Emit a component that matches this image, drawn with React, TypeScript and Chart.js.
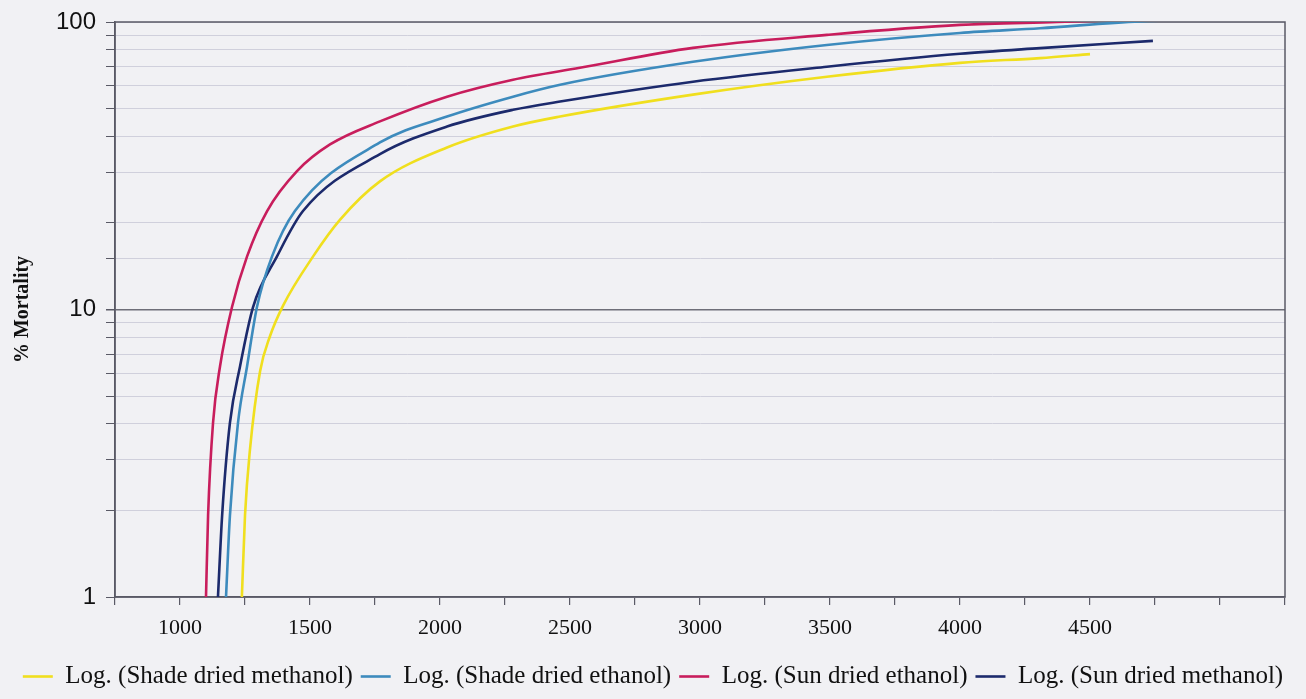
import { useEffect, useRef } from 'react';
import { Chart, registerables } from 'chart.js';

Chart.register(...registerables);

const seriesNames = [
  'Log. (Shade dried methanol)',
  'Log. (Shade dried ethanol)',
  'Log. (Sun dried ethanol)',
  'Log. (Sun dried methanol)',
];
const seriesColors = ['#f0df1e', '#3d8bbd', '#c81d5c', '#1c2a6c'];

// Shade dried methanol (yellow)
const shadeMethanolX = [1238, 1250, 1269, 1308, 1346, 1396, 1512, 1615, 1769, 2027, 2281, 2462, 2973, 3488, 4000, 4308, 4500];
const shadeMethanolY = [1, 1.92, 3.25, 6.1, 8.07, 10.3, 15.3, 20.5, 27.9, 36.6, 43.3, 46.9, 55.9, 64.5, 72.1, 74.9, 77.3];

// Shade dried ethanol (blue)
const shadeEthanolX = [1177, 1192, 1223, 1258, 1296, 1354, 1442, 1769, 2027, 2281, 2462, 2973, 3488, 4000, 4308, 4692, 5000];
const shadeEthanolY = [1, 1.92, 4.03, 6.35, 10.2, 15.3, 22.0, 38.1, 46.9, 55.0, 60.5, 72.7, 83.2, 91.6, 95.1, 100.5, 102];

// Sun dried ethanol (red)
const sunEthanolX = [1100, 1108, 1127, 1154, 1200, 1258, 1335, 1450, 1577, 1769, 2027, 2281, 2538, 2973, 3488, 4000, 4373, 4750];
const sunEthanolY = [1, 1.92, 4.03, 6.35, 10.2, 15.3, 22.0, 30.3, 37.5, 45.1, 55.0, 63.0, 69.3, 81.3, 90.2, 97.7, 100, 102.5];

// Sun dried methanol (navy)
const sunMethanolX = [1146, 1162, 1192, 1231, 1281, 1373, 1473, 1769, 2027, 2281, 2462, 2973, 3488, 4000, 4308, 4742];
const sunMethanolY = [1, 1.92, 4.03, 6.35, 10.2, 15.3, 22.0, 34.7, 43.3, 49.5, 52.9, 62.0, 69.9, 77.5, 81.1, 86.0];

const xTickLabels = [1000, 1500, 2000, 2500, 3000, 3500, 4000, 4500];
const yTickLabels = [1, 10, 100];

const BG = '#f1f1f4';

const toPoints = (xs: number[], ys: number[]) => xs.map((x, i) => ({ x, y: ys[i] }));

const framePlugin = {
  id: 'frame',
  beforeDraw(chart: any) {
    const { ctx } = chart;
    ctx.save();
    ctx.fillStyle = BG;
    ctx.fillRect(0, 0, chart.width, chart.height);
    ctx.restore();
  },
  beforeDatasetsDraw(chart: any) {
    const { ctx, chartArea: a } = chart;
    ctx.save();
    ctx.strokeStyle = '#5a5a66';
    ctx.lineWidth = 1.5;
    ctx.strokeRect(a.left, a.top, a.right - a.left, a.bottom - a.top);
    ctx.restore();
  },
};

export default function App() {
  const canvasRef = useRef<HTMLCanvasElement | null>(null);

  useEffect(() => {
    document.body.style.margin = '0';
    document.body.style.background = BG;
    const canvas = canvasRef.current;
    if (!canvas) return;
    const sets = [
      toPoints(shadeMethanolX, shadeMethanolY),
      toPoints(shadeEthanolX, shadeEthanolY),
      toPoints(sunEthanolX, sunEthanolY),
      toPoints(sunMethanolX, sunMethanolY),
    ];
    const chart = new Chart(canvas, {
      type: 'line',
      data: {
        datasets: sets.map((data, i) => ({
          label: seriesNames[i],
          data,
          borderColor: seriesColors[i],
          backgroundColor: seriesColors[i],
          borderWidth: 2.6,
          pointRadius: 0,
          fill: false,
          cubicInterpolationMode: 'monotone' as const,
        })),
      },
      options: {
        responsive: true,
        maintainAspectRatio: false,
        animation: false,
        layout: { padding: { top: 6, right: 0, left: 0, bottom: 0 } },
        plugins: {
          tooltip: { enabled: false },
          legend: {
            position: 'bottom',
            labels: {
              usePointStyle: true,
              pointStyle: 'line',
              pointStyleWidth: 30,
              padding: 8,
              color: '#111',
              font: { family: '"Liberation Serif", "Times New Roman", serif', size: 25 },
            },
          },
        },
        scales: {
          x: {
            type: 'linear',
            min: 750,
            max: 5250,
            afterFit: (s: any) => {
              s.height = 59;
            },
            ticks: {
              stepSize: 250,
              autoSkip: false,
              maxRotation: 0,
              padding: 10,
              color: '#111',
              font: { family: '"Liberation Serif", "Times New Roman", serif', size: 22 },
              callback: (v: any) => (xTickLabels.includes(Number(v)) ? String(v) : ''),
            },
            grid: { drawOnChartArea: false, drawTicks: true, tickLength: 8, color: '#5a5a66', lineWidth: 1.2 },
            border: { color: '#5a5a66', width: 1.5 },
          },
          y: {
            type: 'logarithmic',
            min: 1,
            max: 100,
            afterFit: (s: any) => {
              s.width = 115;
            },
            ticks: {
              autoSkip: false,
              padding: 10,
              color: '#111',
              font: { family: '"Liberation Sans", Arial, sans-serif', size: 24, lineHeight: 1 },
              callback: (v: any) => {
                const n = Number(v);
                return yTickLabels.some((t) => Math.abs(t - n) < 1e-9) ? String(n) : '';
              },
            },
            grid: {
              color: (c: any) => (c.tick && Math.abs(c.tick.value - 10) < 1e-9 ? '#6e6e78' : '#d0d0dc'),
              lineWidth: (c: any) => (c.tick && Math.abs(c.tick.value - 10) < 1e-9 ? 1.5 : 1),
              tickLength: 9,
              tickColor: '#5a5a66',
            },
            border: { color: '#5a5a66', width: 1.5 },
            title: {
              display: true,
              text: '% Mortality',
              color: '#111',
              padding: { top: 11, bottom: 0 },
              font: { family: '"Liberation Serif", "Times New Roman", serif', size: 20, weight: 'bold' },
            },
          },
          spacer: {
            type: 'linear',
            position: 'right',
            display: true,
            min: 0,
            max: 1,
            afterFit: (s: any) => {
              s.width = 21;
            },
            ticks: { display: false },
            grid: { display: false, drawTicks: false },
            border: { display: false },
          },
        },
      },
      plugins: [framePlugin],
    } as any);
    return () => chart.destroy();
  }, []);

  return (
    <div style={{ position: 'absolute', left: 0, top: 0, width: 1306, height: 699, background: BG }}>
      <canvas ref={canvasRef} />
    </div>
  );
}
